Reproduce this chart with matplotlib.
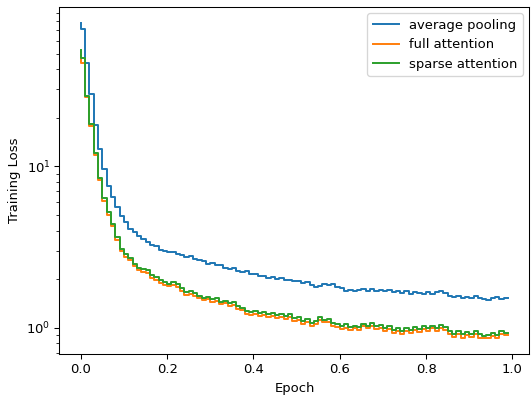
import matplotlib
matplotlib.use('Agg')
import matplotlib.pyplot as plt

# ---------------------------------------------------------------------------
# Training loss per 0.01 epoch
# ---------------------------------------------------------------------------

EPOCHS = [i / 100 for i in range(100)]

AVG_POOL = [
    78.0, 71.0, 44.0, 28.0, 18.0, 12.8, 9.6, 7.6, 6.5, 5.6,
    4.9, 4.5, 4.1, 3.9, 3.7, 3.55, 3.42, 3.28, 3.2, 3.05,
    2.98, 2.93, 2.95, 2.86, 2.84, 2.76, 2.79, 2.68, 2.62, 2.6,
    2.5, 2.52, 2.44, 2.46, 2.36, 2.32, 2.35, 2.26, 2.22, 2.24,
    2.14, 2.16, 2.08, 2.1, 2.04, 2.07, 2.02, 2.04, 1.97, 1.99,
    1.94, 1.96, 1.89, 1.91, 1.84, 1.78, 1.82, 1.86, 1.83, 1.87,
    1.79, 1.77, 1.7, 1.72, 1.68, 1.71, 1.73, 1.7, 1.74, 1.69,
    1.71, 1.68, 1.72, 1.67, 1.69, 1.65, 1.68, 1.63, 1.66, 1.64,
    1.62, 1.66, 1.63, 1.67, 1.69, 1.65, 1.57, 1.55, 1.57, 1.53,
    1.56, 1.53, 1.57, 1.52, 1.5, 1.49, 1.53, 1.55, 1.51, 1.52,
]

FULL_ATTN = [
    49.0, 44.0, 26.8, 17.8, 11.8, 8.2, 6.15, 5.0, 4.25, 3.52,
    3.0, 2.75, 2.62, 2.4, 2.27, 2.22, 2.18, 2.04, 1.98, 1.9,
    1.84, 1.81, 1.85, 1.78, 1.69, 1.6, 1.62, 1.58, 1.52, 1.48,
    1.5, 1.45, 1.46, 1.4, 1.42, 1.37, 1.38, 1.31, 1.28, 1.22,
    1.2, 1.22, 1.18, 1.2, 1.16, 1.19, 1.15, 1.17, 1.13, 1.16,
    1.1, 1.12, 1.06, 1.08, 1.03, 1.05, 1.11, 1.08, 1.09, 1.03,
    1.01, 0.98, 1.0, 0.97, 0.99, 0.97, 1.02, 0.99, 1.03, 0.98,
    1.0, 0.95, 0.98, 0.93, 0.96, 0.92, 0.95, 0.93, 0.97, 0.94,
    0.98, 0.95, 0.99, 0.96, 1.0, 0.97, 0.91, 0.88, 0.91, 0.87,
    0.9, 0.88, 0.92, 0.87, 0.86, 0.87, 0.89, 0.87, 0.92, 0.9,
]

SPARSE_ATTN = [
    53.0, 47.0, 27.5, 18.4, 12.2, 8.5, 6.4, 5.2, 4.4, 3.65,
    3.1, 2.85, 2.72, 2.5, 2.36, 2.32, 2.27, 2.12, 2.06, 1.98,
    1.92, 1.88, 1.93, 1.86, 1.76, 1.66, 1.68, 1.64, 1.58, 1.54,
    1.56, 1.5, 1.52, 1.45, 1.47, 1.42, 1.44, 1.36, 1.33, 1.27,
    1.25, 1.27, 1.23, 1.25, 1.21, 1.24, 1.2, 1.22, 1.18, 1.21,
    1.15, 1.17, 1.1, 1.13, 1.07, 1.1, 1.16, 1.12, 1.14, 1.07,
    1.05, 1.02, 1.05, 1.01, 1.03, 1.01, 1.06, 1.03, 1.07, 1.02,
    1.04, 0.99, 1.02, 0.97, 1.0, 0.96, 0.99, 0.97, 1.01, 0.98,
    1.02, 0.99, 1.03, 1.0, 1.04, 1.01, 0.95, 0.92, 0.95, 0.91,
    0.94, 0.92, 0.96, 0.91, 0.89, 0.9, 0.93, 0.9, 0.96, 0.93,
]

DPI = 94.3


def main():
    fig, ax = plt.subplots(figsize=(531 / DPI, 397 / DPI), dpi=DPI)
    fig.subplots_adjust(left=0.112, right=0.997, top=0.983, bottom=0.108)

    ax.step(EPOCHS, AVG_POOL, label='average pooling')
    ax.step(EPOCHS, FULL_ATTN, label='full attention')
    ax.step(EPOCHS, SPARSE_ATTN, label='sparse attention')

    ax.set_yscale('log')
    ax.set_xlabel('Epoch')
    ax.set_ylabel('Training Loss')
    ax.legend(loc='upper right')

    fig.savefig('out.png', dpi=DPI)


if __name__ == '__main__':
    main()
